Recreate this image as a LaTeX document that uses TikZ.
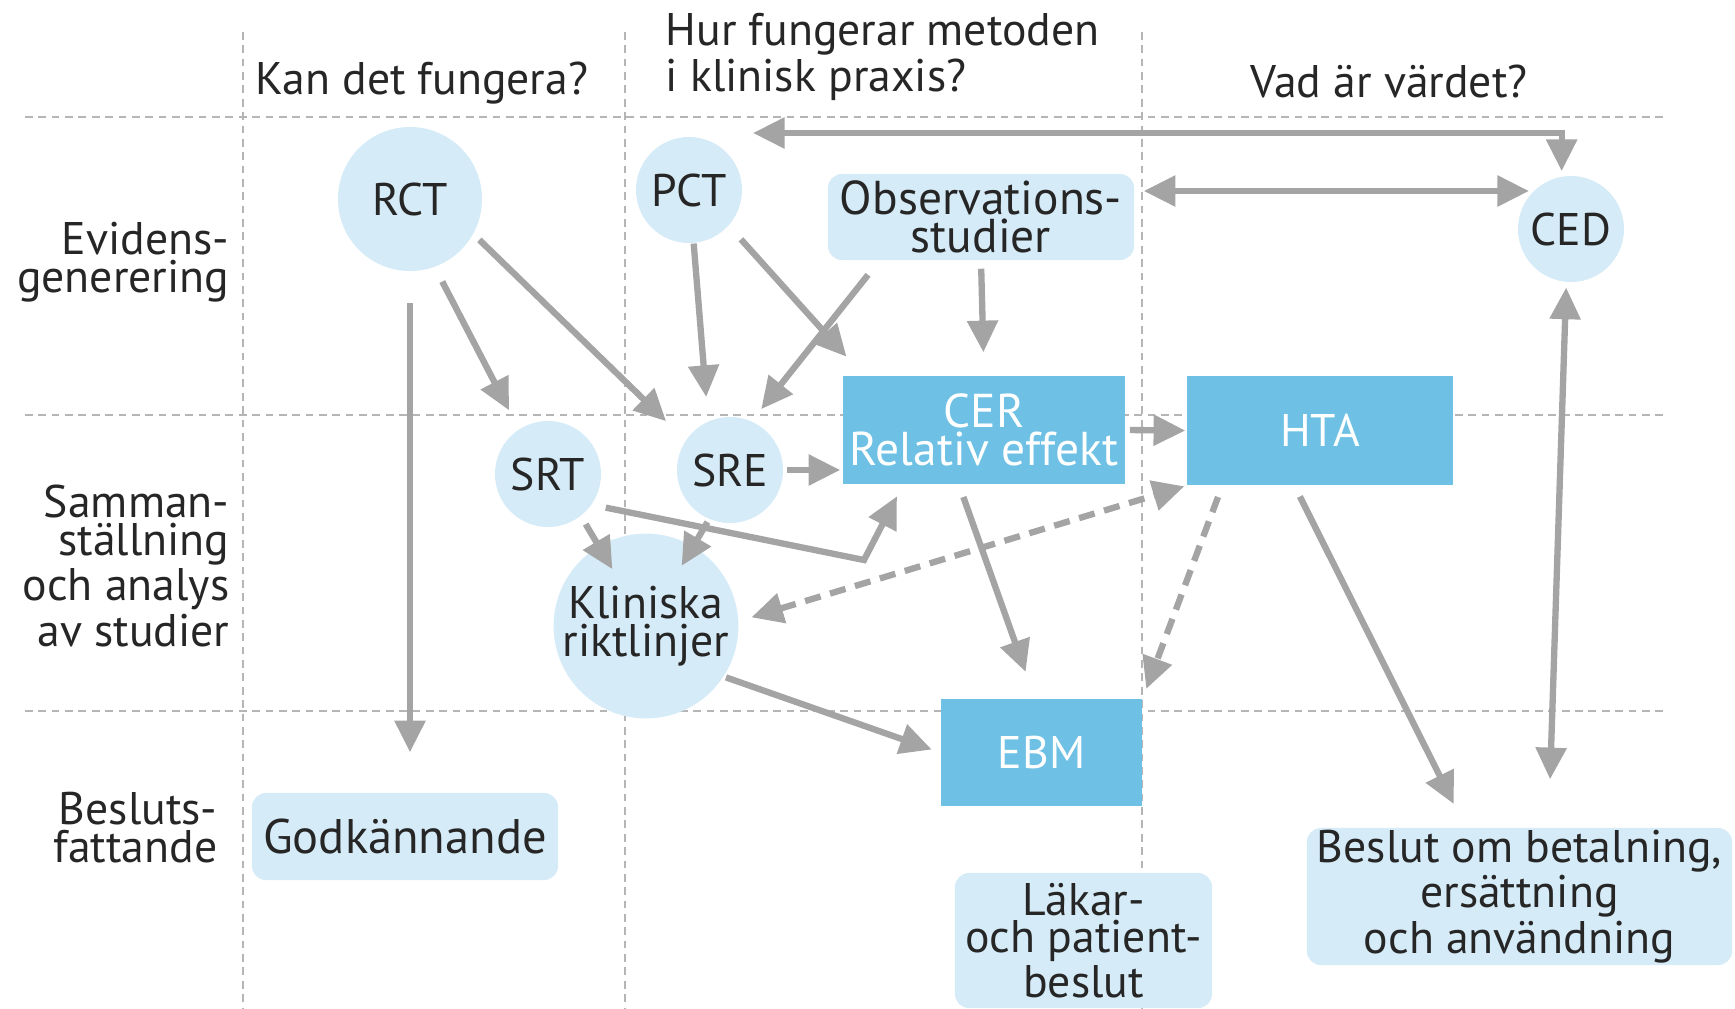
\documentclass[tikz,border=0pt]{standalone}
\usepackage{fontspec}
\setmainfont{PT Sans}
\usetikzlibrary{arrows.meta}
\definecolor{lblue}{HTML}{D5EBF7}
\definecolor{dblue}{HTML}{6EC1E4}
\definecolor{agray}{HTML}{A4A4A4}
\definecolor{ggray}{HTML}{B5B5B5}
\definecolor{txt}{HTML}{262626}
\tikzstyle{circ}=[circle, fill=lblue, inner sep=0pt, align=center]
\tikzstyle{lbox}=[rectangle, rounded corners=4pt, fill=lblue, inner sep=0pt, align=center]
\tikzstyle{dbox}=[rectangle, fill=dblue, text=white, inner sep=0pt, align=center]
\tikzstyle{rowlab}=[anchor=east, align=right, inner sep=0pt]
\tikzstyle{grid}=[ggray, line width=0.5pt, dash pattern=on 2.2pt off 1.6pt]
\tikzstyle{arr}=[agray, line width=1.8pt, -{Triangle[length=9pt,width=8.5pt]}]
\tikzstyle{arrb}=[agray, line width=1.8pt, {Triangle[length=9pt,width=8.5pt]}-{Triangle[length=9pt,width=8.5pt]}]
\tikzstyle{darr}=[arr, dash pattern=on 4.6pt off 2.8pt]
\tikzstyle{darrb}=[arrb, dash pattern=on 4.6pt off 2.8pt]
\begin{document}
\begin{tikzpicture}[x=0.01cm, y=-0.01cm, font=\fontsize{13}{10.8}\selectfont, text=txt]

\useasboundingbox (0,0) rectangle (1735,1008);

% grid
\foreach \y in {117,415,711} \draw[grid] (25,\y) -- (1663,\y);
\foreach \x in {243,625,1142} \draw[grid] (\x,32) -- (\x,1008);

% column and row labels
\node (qkan) at (422,83) {Kan det fungera?};
\node[anchor=west, align=left, inner sep=0pt, font=\fontsize{13}{13.1}\selectfont] (qhur) at (665,57) {Hur fungerar metoden\\i klinisk praxis?};
\node (qvad) at (1389,81) {Vad är värdet?};
\node[rowlab] (rowevid) at (230,262) {Evidens-\\generering};
\node[rowlab] (rowsamm) at (230,566) {Samman-\\ställning\\och analys\\av studier};
\node[rowlab] (rowbesl) at (218,828) {Besluts-\\fattande};

% nodes
\node[circ, minimum size=1.44cm] (rct) at (410,199) {RCT};
\node[circ, minimum size=1.06cm] (pct) at (689,190) {PCT};
\node[circ, minimum size=1.06cm] (srt) at (548,474) {SRT};
\node[circ, minimum size=1.06cm] (sre) at (730,470) {SRE};
\node[circ, minimum size=1.66cm] (klin) at (646,626) {Kliniska\\riktlinjer};
\node[circ, minimum size=1.06cm] (ced) at (1571,229) {CED};
\node[lbox, minimum width=3.06cm, minimum height=0.86cm, font=\fontsize{13.5}{10.8}\selectfont] (obs) at (981,217) {Observations-\\studier};
\node[dbox, minimum width=2.82cm, minimum height=1.08cm, font=\fontsize{13.5}{10.8}\selectfont] (cer) at (984,430) {CER\\Relativ effekt};
\node[dbox, minimum width=2.66cm, minimum height=1.09cm] (hta) at (1320,430.5) {HTA};
\node[dbox, minimum width=2.01cm, minimum height=1.07cm] (ebm) at (1041.5,752.5) {EBM};
\node[lbox, minimum width=3.06cm, minimum height=0.87cm, font=\fontsize{13.8}{10.8}\selectfont] (godk) at (405,836.5) {Godkännande};
\node[lbox, minimum width=2.57cm, minimum height=1.35cm] (lak) at (1083.5,940.5) {Läkar-\\och patient-\\beslut};
\node[lbox, minimum width=4.25cm, minimum height=1.37cm] (beslut) at (1519.5,896.5) {Beslut om betalning,\\ersättning\\och användning};

\coordinate (topl) at (753,133);
\coordinate (bend) at (864,560);

% arrows
\draw[arrb, shorten >=0.05cm] (topl) -| (ced.100);
\draw[arrb, shorten <=0.09cm, shorten >=0.04cm] (obs.east |- ced.135) -- (ced.135);
\draw[arrb, shorten <=0.05cm, shorten >=0.48cm] (ced.-95) -- ([xshift=0.29cm]beslut.north);
\draw[arr, shorten <=0.31cm, shorten >=0.40cm] (rct.south) -- (rct.south |- godk.north);
\draw[arr, shorten <=0.16cm, shorten >=0.21cm] (rct.-70) -- (srt.123);
\draw[arr, shorten <=0.08cm, shorten >=0.27cm] (rct.-29) -- (sre.146);
\draw[arr, shorten >=0.24cm] (pct.-85) -- (sre.114);
\draw[arr, shorten <=0.18cm, shorten >=0.25cm] (pct.-42) -- ([xshift=0.21cm]cer.north west);
\draw[arr, shorten <=0.18cm, shorten >=0.15cm] ([xshift=0.52cm]obs.south west) -- (sre.66);
\draw[arr, shorten <=0.08cm, shorten >=0.23cm] (obs.south) -- (cer.north);
\draw[arr, shorten <=0.03cm, shorten >=0.02cm] (sre.east) -- (sre.east -| cer.west);
\draw[arr, shorten <=0.04cm, shorten >=0.01cm] (cer.east) -- (hta.west);
\draw[arr, shorten <=0.14cm, shorten >=0.13cm] (srt.-35) -- (bend) -- ([xshift=-0.81cm]cer.south);
\draw[arr, shorten <=0.09cm, shorten >=0.66cm] (srt.-52) -- (klin.center);
\draw[arr, shorten <=0.03cm, shorten >=0.70cm] (sre.-113) -- (klin.center);
\draw[arr, shorten <=0.02cm, shorten >=0.09cm] (klin.-33) -- (ebm.west);
\draw[arr, shorten <=0.13cm, shorten >=0.28cm] ([xshift=-0.25cm]cer.south) -- ([xshift=-0.065cm]ebm.north);
\draw[arr, shorten <=0.12cm, shorten >=0.26cm] ([xshift=-0.255cm]hta.south) -- ([xshift=-0.54cm]beslut.north);
\draw[darrb, shorten <=0.13cm, shorten >=0.02cm] (klin.3) -- (hta.south west);
\draw[darr, shorten <=0.12cm, shorten >=0.10cm] ([xshift=0.36cm]hta.south west) -- (ebm.north east);

\end{tikzpicture}
\end{document}
